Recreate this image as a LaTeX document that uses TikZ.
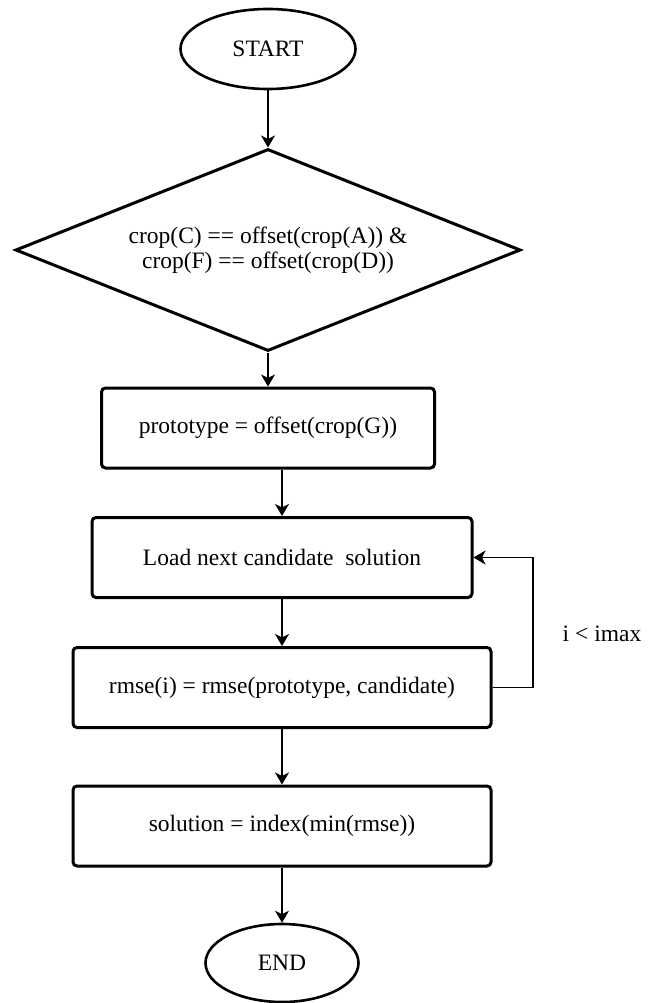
\documentclass[tikz,border=0pt]{standalone}
\usepackage{fontspec}
\setmainfont{Liberation Serif}
\usetikzlibrary{shapes.geometric,arrows.meta}

\begin{document}
\begin{tikzpicture}[x=1pt,y=-1pt,
    font=\fontsize{23.5}{28.5}\selectfont,
    term/.style={draw,ellipse,line width=2.6pt,inner sep=0pt},
    cond/.style={draw,diamond,aspect=2.5,line width=3pt,inner sep=0pt,align=center},
    stepbox/.style={draw,rectangle,rounded corners=4pt,line width=3pt,inner sep=0pt,minimum height=80pt},
    arr/.style={-{Stealth[length=12pt,width=14pt,inset=3.5pt]},line width=1.5pt}]

    \useasboundingbox (0,0) rectangle (650,1003);

    % Start and check
    \node[term,minimum width=175pt,minimum height=80pt] (start) at (268,49) {START};
    \node[cond,minimum width=505pt,minimum height=202pt] (check) at (268,250)
        {\raisebox{-6pt}{\shortstack{crop(C) == offset(crop(A)) \&\\crop(F) == offset(crop(D))}}};

    % Steps
    \node[stepbox,minimum width=333pt] (proto) at (268,428) {prototype = offset(crop(G))};
    \node[stepbox,minimum width=380pt] (load) at (282,557.5) {Load next candidate\ \ solution};
    \node[stepbox,minimum width=418pt] (rmse) at (282,687.5) {rmse(i) = rmse(prototype, candidate)};
    \node[stepbox,minimum width=418pt] (sol) at (282,826) {solution = index(min(rmse))};

    % End
    \node[term,minimum width=153pt,minimum height=78pt] (stop) at (282,963) {END};

    % Loop label
    \node (cnt) at (602,634) {i < imax};
    \coordinate (back) at (533,620);

    % Arrows
    \draw[arr] (start) -- (check);
    \draw[arr] (check) -- (proto);
    \draw[arr] (proto.south -| load) -- (load.north);
    \draw[arr] (load) -- (rmse);
    \draw[arr] (rmse) -- (sol);
    \draw[arr] (sol) -- (stop);
    \draw[arr] (rmse.east) -| (back) |- (load.east);

\end{tikzpicture}
\end{document}
